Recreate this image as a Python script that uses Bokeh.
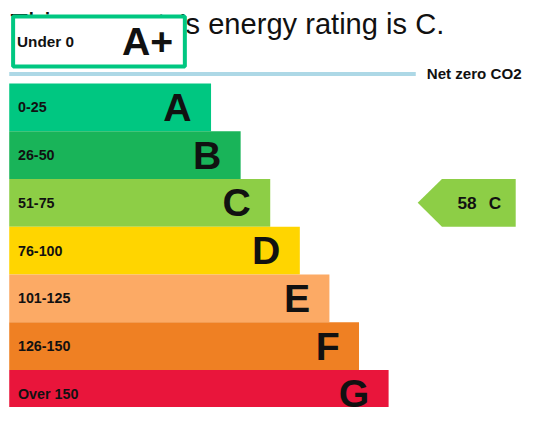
from bokeh.plotting import figure
from bokeh.models import Range1d, ColumnDataSource
from bokeh.core.properties import value
from bokeh.embed import file_html
from bokeh.resources import INLINE

# ---- data ----
bands = ["A", "B", "C", "D", "E", "F", "G"]
ranges = ["0-25", "26-50", "51-75", "76-100", "101-125", "126-150", "Over 150"]
colors = ["#00c781", "#19b459", "#8dce46", "#ffd500", "#fcaa65", "#ef8023", "#e9153b"]
top_band = "A+"
top_range = "Under 0"
top_color = "#00c781"
net_zero_label = "Net zero CO2"
rating_value = 58
rating_band = "C"
title_text = "This property's energy rating is C."

FONT = value("Liberation Sans")
S = 0.955  # font scale (reference drawn into a 522x407 canvas)


def fs(px):
    return f"{px * S:.1f}px"


p = figure(width=522, height=407, output_backend="svg", toolbar_location=None,
           x_range=Range1d(0, 538), y_range=Range1d(432, 0),
           x_axis_type=None, y_axis_type=None, min_border=0,
           background_fill_color="white", border_fill_color="white")
p.outline_line_color = None
p.grid.visible = False

# layout parameters
x0 = 9
base_w = 208
step_w = 30.5
top0 = 88
band_h = 50.7

lefts, rights, tops, bottoms, lx, cy, rx = [], [], [], [], [], [], []
for i in range(len(bands)):
    r = x0 + base_w + step_w * i
    t = top0 + band_h * i
    b = t + band_h
    lefts.append(x0); rights.append(r); tops.append(t); bottoms.append(b)
    lx.append(r - 20); cy.append((t + b) / 2)
    rx.append(18)

src = ColumnDataSource(dict(left=lefts, right=rights, top=tops, bottom=bottoms,
                            color=colors, band=bands, rng=ranges,
                            lx=lx, cy=cy, rx=rx))

# title (partly hidden by the A+ box)
p.text(x=[10], y=[25], text=[title_text], text_font=FONT, text_font_size=fs(30.5),
       text_color="#111111", text_baseline="middle", text_align="left")

# A+ box
p.quad(left=[13], right=[190], top=[17], bottom=[70], fill_color="white",
       line_color=top_color, line_width=4)
p.text(x=[17], y=[43.5], text=[top_range], text_font=FONT, text_font_size=fs(16),
       text_font_style="bold", text_color="#111111", text_baseline="middle")
p.text(x=[178], y=[43], text=[top_band], text_font=FONT, text_font_size=fs(41),
       text_font_style="bold", text_color="#111111", text_baseline="middle",
       text_align="right")

# net zero line
p.line(x=[9, 428], y=[78, 78], line_color="#add8e6", line_width=4)
p.text(x=[537], y=[77.5], text=[net_zero_label], text_font=FONT, text_font_size=fs(15.8),
       text_font_style="bold", text_color="#111111", text_baseline="middle",
       text_align="right")

# bands
p.quad(left="left", right="right", top="top", bottom="bottom", fill_color="color",
       line_color=None, source=src)
p.text(x="lx", y="cy", text="band", text_font=FONT, text_font_size=fs(41),
       text_font_style="bold", text_color="#111111", text_baseline="middle",
       text_align="right", source=src)
p.text(x="rx", y="cy", text="rng", text_font=FONT, text_font_size=fs(15),
       text_font_style="bold", text_color="#111111", text_baseline="middle",
       text_align="left", source=src)

# current rating arrow
ci = bands.index(rating_band)
at = top0 + band_h * ci
ab = at + band_h
mid = (at + ab) / 2
p.patch(x=[430, 455, 531, 531, 455], y=[mid, at, at, ab, ab],
        fill_color=colors[ci], line_color=None)
p.text(x=[471], y=[mid], text=[str(rating_value)], text_font=FONT,
       text_font_size=fs(18), text_font_style="bold", text_color="#111111",
       text_baseline="middle", text_align="left")
p.text(x=[516], y=[mid], text=[rating_band], text_font=FONT,
       text_font_size=fs(18), text_font_style="bold", text_color="#111111",
       text_baseline="middle", text_align="right")

open("out.html", "w").write(file_html(p, INLINE))
